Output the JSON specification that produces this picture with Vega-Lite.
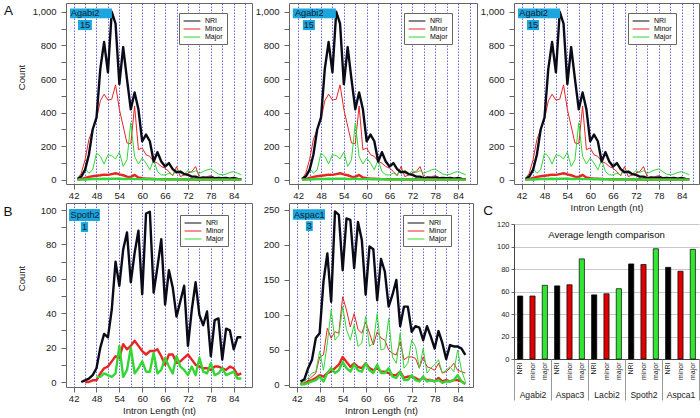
{
"$schema":"https://vega.github.io/schema/vega-lite/v6.json",
"autosize":"none",
"padding":{"left":66,"top":3,"right":634,"bottom":415},
"background":"white",
"config":{
 "font":"Liberation Sans",
 "view":{"stroke":"#666","strokeWidth":1},
 "axis":{"labelFont":"Liberation Sans","titleFont":"Liberation Sans","labelFontSize":9.5,"labelColor":"#222","titleFontSize":9.5,"titleFontWeight":"normal","titleColor":"#222","tickColor":"#666","domain":false,"grid":false,"tickSize":5,"labelOverlap":false},
 "title":{"font":"Liberation Sans","fontWeight":"normal","color":"#111"},
 "legend":{"labelFont":"Liberation Sans"}
},
"datasets":{
"agabi2":[
{"nt":43,"series":"NRI","count":5},{"nt":44,"series":"NRI","count":20},{"nt":45,"series":"NRI","count":60},{"nt":46,"series":"NRI","count":150},{"nt":47,"series":"NRI","count":300},{"nt":48,"series":"NRI","count":370},{"nt":49,"series":"NRI","count":660},{"nt":50,"series":"NRI","count":820},{"nt":51,"series":"NRI","count":640},{"nt":52,"series":"NRI","count":1000},{"nt":53,"series":"NRI","count":930},{"nt":54,"series":"NRI","count":570},{"nt":55,"series":"NRI","count":790},{"nt":56,"series":"NRI","count":600},{"nt":57,"series":"NRI","count":420},{"nt":58,"series":"NRI","count":520},{"nt":59,"series":"NRI","count":420},{"nt":60,"series":"NRI","count":230},{"nt":61,"series":"NRI","count":270},{"nt":62,"series":"NRI","count":230},{"nt":63,"series":"NRI","count":110},{"nt":64,"series":"NRI","count":165},{"nt":65,"series":"NRI","count":110},{"nt":66,"series":"NRI","count":80},{"nt":67,"series":"NRI","count":100},{"nt":68,"series":"NRI","count":65},{"nt":69,"series":"NRI","count":45},{"nt":70,"series":"NRI","count":50},{"nt":71,"series":"NRI","count":35},{"nt":72,"series":"NRI","count":30},{"nt":73,"series":"NRI","count":20},{"nt":74,"series":"NRI","count":20},{"nt":75,"series":"NRI","count":10},{"nt":76,"series":"NRI","count":15},{"nt":77,"series":"NRI","count":10},{"nt":78,"series":"NRI","count":15},{"nt":79,"series":"NRI","count":10},{"nt":80,"series":"NRI","count":12},{"nt":81,"series":"NRI","count":10},{"nt":82,"series":"NRI","count":12},{"nt":83,"series":"NRI","count":8},{"nt":84,"series":"NRI","count":12},{"nt":85,"series":"NRI","count":6},{"nt":86,"series":"NRI","count":5},
{"nt":43,"series":"Minor","count":5},{"nt":44,"series":"Minor","count":40},{"nt":45,"series":"Minor","count":120},{"nt":46,"series":"Minor","count":240},{"nt":47,"series":"Minor","count":300},{"nt":48,"series":"Minor","count":360},{"nt":49,"series":"Minor","count":470},{"nt":50,"series":"Minor","count":510},{"nt":51,"series":"Minor","count":475},{"nt":52,"series":"Minor","count":480},{"nt":53,"series":"Minor","count":565},{"nt":54,"series":"Minor","count":420},{"nt":55,"series":"Minor","count":320},{"nt":56,"series":"Minor","count":220},{"nt":57,"series":"Minor","count":215},{"nt":58,"series":"Minor","count":440},{"nt":59,"series":"Minor","count":180},{"nt":60,"series":"Minor","count":190},{"nt":61,"series":"Minor","count":150},{"nt":62,"series":"Minor","count":140},{"nt":63,"series":"Minor","count":110},{"nt":64,"series":"Minor","count":100},{"nt":65,"series":"Minor","count":80},{"nt":66,"series":"Minor","count":70},{"nt":67,"series":"Minor","count":50},{"nt":68,"series":"Minor","count":25},{"nt":69,"series":"Minor","count":80},{"nt":70,"series":"Minor","count":20},{"nt":71,"series":"Minor","count":30},{"nt":72,"series":"Minor","count":40},{"nt":73,"series":"Minor","count":50},{"nt":74,"series":"Minor","count":80},{"nt":75,"series":"Minor","count":15},{"nt":76,"series":"Minor","count":15},{"nt":77,"series":"Minor","count":20},{"nt":78,"series":"Minor","count":25},{"nt":79,"series":"Minor","count":15},{"nt":80,"series":"Minor","count":10},{"nt":81,"series":"Minor","count":10},{"nt":82,"series":"Minor","count":12},{"nt":83,"series":"Minor","count":10},{"nt":84,"series":"Minor","count":10},{"nt":85,"series":"Minor","count":8},{"nt":86,"series":"Minor","count":5},
{"nt":43,"series":"Major","count":0},{"nt":44,"series":"Major","count":20},{"nt":45,"series":"Major","count":70},{"nt":46,"series":"Major","count":40},{"nt":47,"series":"Major","count":60},{"nt":48,"series":"Major","count":160},{"nt":49,"series":"Major","count":140},{"nt":50,"series":"Major","count":95},{"nt":51,"series":"Major","count":150},{"nt":52,"series":"Major","count":145},{"nt":53,"series":"Major","count":125},{"nt":54,"series":"Major","count":165},{"nt":55,"series":"Major","count":80},{"nt":56,"series":"Major","count":120},{"nt":57,"series":"Major","count":340},{"nt":58,"series":"Major","count":140},{"nt":59,"series":"Major","count":95},{"nt":60,"series":"Major","count":130},{"nt":61,"series":"Major","count":100},{"nt":62,"series":"Major","count":60},{"nt":63,"series":"Major","count":120},{"nt":64,"series":"Major","count":50},{"nt":65,"series":"Major","count":30},{"nt":66,"series":"Major","count":30},{"nt":67,"series":"Major","count":40},{"nt":68,"series":"Major","count":30},{"nt":69,"series":"Major","count":60},{"nt":70,"series":"Major","count":40},{"nt":71,"series":"Major","count":35},{"nt":72,"series":"Major","count":55},{"nt":73,"series":"Major","count":45},{"nt":74,"series":"Major","count":55},{"nt":75,"series":"Major","count":40},{"nt":76,"series":"Major","count":50},{"nt":77,"series":"Major","count":60},{"nt":78,"series":"Major","count":65},{"nt":79,"series":"Major","count":50},{"nt":80,"series":"Major","count":35},{"nt":81,"series":"Major","count":30},{"nt":82,"series":"Major","count":35},{"nt":83,"series":"Major","count":45},{"nt":84,"series":"Major","count":50},{"nt":85,"series":"Major","count":40},{"nt":86,"series":"Major","count":30},
{"nt":43,"series":"Minor subset","count":2},{"nt":44,"series":"Minor subset","count":5},{"nt":45,"series":"Minor subset","count":12},{"nt":46,"series":"Minor subset","count":18},{"nt":47,"series":"Minor subset","count":22},{"nt":48,"series":"Minor subset","count":25},{"nt":49,"series":"Minor subset","count":28},{"nt":50,"series":"Minor subset","count":32},{"nt":51,"series":"Minor subset","count":30},{"nt":52,"series":"Minor subset","count":35},{"nt":53,"series":"Minor subset","count":40},{"nt":54,"series":"Minor subset","count":33},{"nt":55,"series":"Minor subset","count":28},{"nt":56,"series":"Minor subset","count":20},{"nt":57,"series":"Minor subset","count":18},{"nt":58,"series":"Minor subset","count":30},{"nt":59,"series":"Minor subset","count":15},{"nt":60,"series":"Minor subset","count":10},{"nt":61,"series":"Minor subset","count":8},{"nt":62,"series":"Minor subset","count":7},{"nt":63,"series":"Minor subset","count":6},{"nt":64,"series":"Minor subset","count":5},{"nt":65,"series":"Minor subset","count":5},{"nt":66,"series":"Minor subset","count":4},{"nt":67,"series":"Minor subset","count":5},{"nt":68,"series":"Minor subset","count":4},{"nt":69,"series":"Minor subset","count":4},{"nt":70,"series":"Minor subset","count":3},{"nt":71,"series":"Minor subset","count":4},{"nt":72,"series":"Minor subset","count":3},{"nt":73,"series":"Minor subset","count":4},{"nt":74,"series":"Minor subset","count":3},{"nt":75,"series":"Minor subset","count":3},{"nt":76,"series":"Minor subset","count":3},{"nt":77,"series":"Minor subset","count":2},{"nt":78,"series":"Minor subset","count":3},{"nt":79,"series":"Minor subset","count":2},{"nt":80,"series":"Minor subset","count":2},{"nt":81,"series":"Minor subset","count":3},{"nt":82,"series":"Minor subset","count":2},{"nt":83,"series":"Minor subset","count":2},{"nt":84,"series":"Minor subset","count":2},{"nt":85,"series":"Minor subset","count":2},{"nt":86,"series":"Minor subset","count":1},
{"nt":43,"series":"Major subset","count":1},{"nt":44,"series":"Major subset","count":2},{"nt":45,"series":"Major subset","count":3},{"nt":46,"series":"Major subset","count":4},{"nt":47,"series":"Major subset","count":5},{"nt":48,"series":"Major subset","count":6},{"nt":49,"series":"Major subset","count":6},{"nt":50,"series":"Major subset","count":7},{"nt":51,"series":"Major subset","count":6},{"nt":52,"series":"Major subset","count":7},{"nt":53,"series":"Major subset","count":8},{"nt":54,"series":"Major subset","count":7},{"nt":55,"series":"Major subset","count":6},{"nt":56,"series":"Major subset","count":5},{"nt":57,"series":"Major subset","count":8},{"nt":58,"series":"Major subset","count":6},{"nt":59,"series":"Major subset","count":5},{"nt":60,"series":"Major subset","count":5},{"nt":61,"series":"Major subset","count":4},{"nt":62,"series":"Major subset","count":4},{"nt":63,"series":"Major subset","count":5},{"nt":64,"series":"Major subset","count":4},{"nt":65,"series":"Major subset","count":3},{"nt":66,"series":"Major subset","count":3},{"nt":67,"series":"Major subset","count":3},{"nt":68,"series":"Major subset","count":3},{"nt":69,"series":"Major subset","count":4},{"nt":70,"series":"Major subset","count":3},{"nt":71,"series":"Major subset","count":3},{"nt":72,"series":"Major subset","count":3},{"nt":73,"series":"Major subset","count":2},{"nt":74,"series":"Major subset","count":3},{"nt":75,"series":"Major subset","count":2},{"nt":76,"series":"Major subset","count":2},{"nt":77,"series":"Major subset","count":3},{"nt":78,"series":"Major subset","count":2},{"nt":79,"series":"Major subset","count":2},{"nt":80,"series":"Major subset","count":2},{"nt":81,"series":"Major subset","count":2},{"nt":82,"series":"Major subset","count":2},{"nt":83,"series":"Major subset","count":2},{"nt":84,"series":"Major subset","count":2},{"nt":85,"series":"Major subset","count":2},{"nt":86,"series":"Major subset","count":1}
],
"spoth2":[
{"nt":44,"series":"NRI","count":0},{"nt":45,"series":"NRI","count":1},{"nt":46,"series":"NRI","count":2},{"nt":47,"series":"NRI","count":4},{"nt":48,"series":"NRI","count":8},{"nt":49,"series":"NRI","count":20},{"nt":50,"series":"NRI","count":28},{"nt":51,"series":"NRI","count":26},{"nt":52,"series":"NRI","count":42},{"nt":53,"series":"NRI","count":70},{"nt":54,"series":"NRI","count":56},{"nt":55,"series":"NRI","count":77},{"nt":56,"series":"NRI","count":87},{"nt":57,"series":"NRI","count":58},{"nt":58,"series":"NRI","count":75},{"nt":59,"series":"NRI","count":88},{"nt":60,"series":"NRI","count":51},{"nt":61,"series":"NRI","count":98},{"nt":62,"series":"NRI","count":99},{"nt":63,"series":"NRI","count":52},{"nt":64,"series":"NRI","count":67},{"nt":65,"series":"NRI","count":83},{"nt":66,"series":"NRI","count":45},{"nt":67,"series":"NRI","count":65},{"nt":68,"series":"NRI","count":55},{"nt":69,"series":"NRI","count":38},{"nt":70,"series":"NRI","count":47},{"nt":71,"series":"NRI","count":56},{"nt":72,"series":"NRI","count":21},{"nt":73,"series":"NRI","count":42},{"nt":74,"series":"NRI","count":58},{"nt":75,"series":"NRI","count":39},{"nt":76,"series":"NRI","count":33},{"nt":77,"series":"NRI","count":41},{"nt":78,"series":"NRI","count":15},{"nt":79,"series":"NRI","count":36},{"nt":80,"series":"NRI","count":37},{"nt":81,"series":"NRI","count":13},{"nt":82,"series":"NRI","count":31},{"nt":83,"series":"NRI","count":30},{"nt":84,"series":"NRI","count":19},{"nt":85,"series":"NRI","count":26},{"nt":86,"series":"NRI","count":26},
{"nt":45,"series":"Minor subset","count":0},{"nt":46,"series":"Minor subset","count":0},{"nt":47,"series":"Minor subset","count":1},{"nt":48,"series":"Minor subset","count":1},{"nt":49,"series":"Minor subset","count":5},{"nt":50,"series":"Minor subset","count":8},{"nt":51,"series":"Minor subset","count":9},{"nt":52,"series":"Minor subset","count":12},{"nt":53,"series":"Minor subset","count":15},{"nt":54,"series":"Minor subset","count":14},{"nt":55,"series":"Minor subset","count":22},{"nt":56,"series":"Minor subset","count":19},{"nt":57,"series":"Minor subset","count":21},{"nt":58,"series":"Minor subset","count":24},{"nt":59,"series":"Minor subset","count":21},{"nt":60,"series":"Minor subset","count":18},{"nt":61,"series":"Minor subset","count":16},{"nt":62,"series":"Minor subset","count":18},{"nt":63,"series":"Minor subset","count":18},{"nt":64,"series":"Minor subset","count":19},{"nt":65,"series":"Minor subset","count":15},{"nt":66,"series":"Minor subset","count":10},{"nt":67,"series":"Minor subset","count":16},{"nt":68,"series":"Minor subset","count":16},{"nt":69,"series":"Minor subset","count":11},{"nt":70,"series":"Minor subset","count":12},{"nt":71,"series":"Minor subset","count":14},{"nt":72,"series":"Minor subset","count":16},{"nt":73,"series":"Minor subset","count":13},{"nt":74,"series":"Minor subset","count":10},{"nt":75,"series":"Minor subset","count":9},{"nt":76,"series":"Minor subset","count":8},{"nt":77,"series":"Minor subset","count":8},{"nt":78,"series":"Minor subset","count":7},{"nt":79,"series":"Minor subset","count":9},{"nt":80,"series":"Minor subset","count":9},{"nt":81,"series":"Minor subset","count":8},{"nt":82,"series":"Minor subset","count":7},{"nt":83,"series":"Minor subset","count":9},{"nt":84,"series":"Minor subset","count":8},{"nt":85,"series":"Minor subset","count":4},{"nt":86,"series":"Minor subset","count":5},
{"nt":48,"series":"Major subset","count":3},{"nt":49,"series":"Major subset","count":3},{"nt":50,"series":"Major subset","count":5},{"nt":51,"series":"Major subset","count":4},{"nt":52,"series":"Major subset","count":3},{"nt":53,"series":"Major subset","count":5},{"nt":54,"series":"Major subset","count":21},{"nt":55,"series":"Major subset","count":3},{"nt":56,"series":"Major subset","count":7},{"nt":57,"series":"Major subset","count":20},{"nt":58,"series":"Major subset","count":5},{"nt":59,"series":"Major subset","count":8},{"nt":60,"series":"Major subset","count":12},{"nt":61,"series":"Major subset","count":6},{"nt":62,"series":"Major subset","count":6},{"nt":63,"series":"Major subset","count":17},{"nt":64,"series":"Major subset","count":5},{"nt":65,"series":"Major subset","count":7},{"nt":66,"series":"Major subset","count":14},{"nt":67,"series":"Major subset","count":9},{"nt":68,"series":"Major subset","count":5},{"nt":69,"series":"Major subset","count":15},{"nt":70,"series":"Major subset","count":9},{"nt":71,"series":"Major subset","count":7},{"nt":72,"series":"Major subset","count":4},{"nt":73,"series":"Major subset","count":9},{"nt":74,"series":"Major subset","count":4},{"nt":75,"series":"Major subset","count":14},{"nt":76,"series":"Major subset","count":6},{"nt":77,"series":"Major subset","count":5},{"nt":78,"series":"Major subset","count":11},{"nt":79,"series":"Major subset","count":4},{"nt":80,"series":"Major subset","count":5},{"nt":81,"series":"Major subset","count":8},{"nt":82,"series":"Major subset","count":4},{"nt":83,"series":"Major subset","count":5},{"nt":84,"series":"Major subset","count":6},{"nt":85,"series":"Major subset","count":2},{"nt":86,"series":"Major subset","count":2}
],
"aspac1":[
{"nt":43,"series":"NRI","count":5},{"nt":44,"series":"NRI","count":8},{"nt":45,"series":"NRI","count":24},{"nt":46,"series":"NRI","count":36},{"nt":47,"series":"NRI","count":67},{"nt":48,"series":"NRI","count":74},{"nt":49,"series":"NRI","count":148},{"nt":50,"series":"NRI","count":188},{"nt":51,"series":"NRI","count":119},{"nt":52,"series":"NRI","count":248},{"nt":53,"series":"NRI","count":243},{"nt":54,"series":"NRI","count":164},{"nt":55,"series":"NRI","count":238},{"nt":56,"series":"NRI","count":236},{"nt":57,"series":"NRI","count":167},{"nt":58,"series":"NRI","count":233},{"nt":59,"series":"NRI","count":207},{"nt":60,"series":"NRI","count":129},{"nt":61,"series":"NRI","count":198},{"nt":62,"series":"NRI","count":194},{"nt":63,"series":"NRI","count":121},{"nt":64,"series":"NRI","count":180},{"nt":65,"series":"NRI","count":162},{"nt":66,"series":"NRI","count":112},{"nt":67,"series":"NRI","count":129},{"nt":68,"series":"NRI","count":150},{"nt":69,"series":"NRI","count":84},{"nt":70,"series":"NRI","count":112},{"nt":71,"series":"NRI","count":112},{"nt":72,"series":"NRI","count":76},{"nt":73,"series":"NRI","count":84},{"nt":74,"series":"NRI","count":82},{"nt":75,"series":"NRI","count":64},{"nt":76,"series":"NRI","count":84},{"nt":77,"series":"NRI","count":69},{"nt":78,"series":"NRI","count":52},{"nt":79,"series":"NRI","count":77},{"nt":80,"series":"NRI","count":60},{"nt":81,"series":"NRI","count":37},{"nt":82,"series":"NRI","count":57},{"nt":83,"series":"NRI","count":55},{"nt":84,"series":"NRI","count":55},{"nt":85,"series":"NRI","count":52},{"nt":86,"series":"NRI","count":43},
{"nt":43,"series":"Minor","count":3},{"nt":44,"series":"Minor","count":2},{"nt":45,"series":"Minor","count":7},{"nt":46,"series":"Minor","count":12},{"nt":47,"series":"Minor","count":17},{"nt":48,"series":"Minor","count":40},{"nt":49,"series":"Minor","count":43},{"nt":50,"series":"Minor","count":81},{"nt":51,"series":"Minor","count":67},{"nt":52,"series":"Minor","count":76},{"nt":53,"series":"Minor","count":74},{"nt":54,"series":"Minor","count":126},{"nt":55,"series":"Minor","count":107},{"nt":56,"series":"Minor","count":83},{"nt":57,"series":"Minor","count":102},{"nt":58,"series":"Minor","count":79},{"nt":59,"series":"Minor","count":74},{"nt":60,"series":"Minor","count":90},{"nt":61,"series":"Minor","count":74},{"nt":62,"series":"Minor","count":57},{"nt":63,"series":"Minor","count":76},{"nt":64,"series":"Minor","count":67},{"nt":65,"series":"Minor","count":64},{"nt":66,"series":"Minor","count":50},{"nt":67,"series":"Minor","count":45},{"nt":68,"series":"Minor","count":43},{"nt":69,"series":"Minor","count":62},{"nt":70,"series":"Minor","count":36},{"nt":71,"series":"Minor","count":40},{"nt":72,"series":"Minor","count":40},{"nt":73,"series":"Minor","count":38},{"nt":74,"series":"Minor","count":24},{"nt":75,"series":"Minor","count":40},{"nt":76,"series":"Minor","count":26},{"nt":77,"series":"Minor","count":24},{"nt":78,"series":"Minor","count":21},{"nt":79,"series":"Minor","count":31},{"nt":80,"series":"Minor","count":17},{"nt":81,"series":"Minor","count":19},{"nt":82,"series":"Minor","count":24},{"nt":83,"series":"Minor","count":31},{"nt":84,"series":"Minor","count":21},{"nt":85,"series":"Minor","count":19},{"nt":86,"series":"Minor","count":17},
{"nt":43,"series":"Major","count":2},{"nt":44,"series":"Major","count":5},{"nt":45,"series":"Major","count":10},{"nt":46,"series":"Major","count":17},{"nt":47,"series":"Major","count":19},{"nt":48,"series":"Major","count":48},{"nt":49,"series":"Major","count":21},{"nt":50,"series":"Major","count":60},{"nt":51,"series":"Major","count":107},{"nt":52,"series":"Major","count":64},{"nt":53,"series":"Major","count":71},{"nt":54,"series":"Major","count":112},{"nt":55,"series":"Major","count":79},{"nt":56,"series":"Major","count":64},{"nt":57,"series":"Major","count":86},{"nt":58,"series":"Major","count":55},{"nt":59,"series":"Major","count":60},{"nt":60,"series":"Major","count":98},{"nt":61,"series":"Major","count":55},{"nt":62,"series":"Major","count":60},{"nt":63,"series":"Major","count":102},{"nt":64,"series":"Major","count":50},{"nt":65,"series":"Major","count":52},{"nt":66,"series":"Major","count":95},{"nt":67,"series":"Major","count":40},{"nt":68,"series":"Major","count":31},{"nt":69,"series":"Major","count":74},{"nt":70,"series":"Major","count":24},{"nt":71,"series":"Major","count":31},{"nt":72,"series":"Major","count":64},{"nt":73,"series":"Major","count":55},{"nt":74,"series":"Major","count":24},{"nt":75,"series":"Major","count":52},{"nt":76,"series":"Major","count":17},{"nt":77,"series":"Major","count":24},{"nt":78,"series":"Major","count":29},{"nt":79,"series":"Major","count":36},{"nt":80,"series":"Major","count":17},{"nt":81,"series":"Major","count":21},{"nt":82,"series":"Major","count":26},{"nt":83,"series":"Major","count":19},{"nt":84,"series":"Major","count":50},{"nt":85,"series":"Major","count":21},{"nt":86,"series":"Major","count":5},
{"nt":43,"series":"Minor subset","count":1},{"nt":44,"series":"Minor subset","count":2},{"nt":45,"series":"Minor subset","count":5},{"nt":46,"series":"Minor subset","count":7},{"nt":47,"series":"Minor subset","count":10},{"nt":48,"series":"Minor subset","count":14},{"nt":49,"series":"Minor subset","count":12},{"nt":50,"series":"Minor subset","count":17},{"nt":51,"series":"Minor subset","count":19},{"nt":52,"series":"Minor subset","count":24},{"nt":53,"series":"Minor subset","count":29},{"nt":54,"series":"Minor subset","count":40},{"nt":55,"series":"Minor subset","count":33},{"nt":56,"series":"Minor subset","count":26},{"nt":57,"series":"Minor subset","count":31},{"nt":58,"series":"Minor subset","count":26},{"nt":59,"series":"Minor subset","count":24},{"nt":60,"series":"Minor subset","count":31},{"nt":61,"series":"Minor subset","count":24},{"nt":62,"series":"Minor subset","count":21},{"nt":63,"series":"Minor subset","count":24},{"nt":64,"series":"Minor subset","count":19},{"nt":65,"series":"Minor subset","count":19},{"nt":66,"series":"Minor subset","count":17},{"nt":67,"series":"Minor subset","count":14},{"nt":68,"series":"Minor subset","count":14},{"nt":69,"series":"Minor subset","count":19},{"nt":70,"series":"Minor subset","count":10},{"nt":71,"series":"Minor subset","count":12},{"nt":72,"series":"Minor subset","count":12},{"nt":73,"series":"Minor subset","count":10},{"nt":74,"series":"Minor subset","count":7},{"nt":75,"series":"Minor subset","count":10},{"nt":76,"series":"Minor subset","count":7},{"nt":77,"series":"Minor subset","count":7},{"nt":78,"series":"Minor subset","count":5},{"nt":79,"series":"Minor subset","count":10},{"nt":80,"series":"Minor subset","count":5},{"nt":81,"series":"Minor subset","count":7},{"nt":82,"series":"Minor subset","count":5},{"nt":83,"series":"Minor subset","count":7},{"nt":84,"series":"Minor subset","count":7},{"nt":85,"series":"Minor subset","count":5},{"nt":86,"series":"Minor subset","count":2},
{"nt":43,"series":"Major subset","count":1},{"nt":44,"series":"Major subset","count":1},{"nt":45,"series":"Major subset","count":3},{"nt":46,"series":"Major subset","count":5},{"nt":47,"series":"Major subset","count":7},{"nt":48,"series":"Major subset","count":12},{"nt":49,"series":"Major subset","count":5},{"nt":50,"series":"Major subset","count":17},{"nt":51,"series":"Major subset","count":24},{"nt":52,"series":"Major subset","count":17},{"nt":53,"series":"Major subset","count":21},{"nt":54,"series":"Major subset","count":33},{"nt":55,"series":"Major subset","count":24},{"nt":56,"series":"Major subset","count":19},{"nt":57,"series":"Major subset","count":29},{"nt":58,"series":"Major subset","count":21},{"nt":59,"series":"Major subset","count":19},{"nt":60,"series":"Major subset","count":31},{"nt":61,"series":"Major subset","count":21},{"nt":62,"series":"Major subset","count":17},{"nt":63,"series":"Major subset","count":29},{"nt":64,"series":"Major subset","count":17},{"nt":65,"series":"Major subset","count":17},{"nt":66,"series":"Major subset","count":24},{"nt":67,"series":"Major subset","count":12},{"nt":68,"series":"Major subset","count":10},{"nt":69,"series":"Major subset","count":19},{"nt":70,"series":"Major subset","count":7},{"nt":71,"series":"Major subset","count":7},{"nt":72,"series":"Major subset","count":14},{"nt":73,"series":"Major subset","count":7},{"nt":74,"series":"Major subset","count":5},{"nt":75,"series":"Major subset","count":12},{"nt":76,"series":"Major subset","count":5},{"nt":77,"series":"Major subset","count":7},{"nt":78,"series":"Major subset","count":5},{"nt":79,"series":"Major subset","count":7},{"nt":80,"series":"Major subset","count":3},{"nt":81,"series":"Major subset","count":5},{"nt":82,"series":"Major subset","count":5},{"nt":83,"series":"Major subset","count":7},{"nt":84,"series":"Major subset","count":14},{"nt":85,"series":"Major subset","count":5},{"nt":86,"series":"Major subset","count":1}
],
"avg":[
{"species":"Agabi2","type":"NRI","id":"Agabi2 NRI","length":56},{"species":"Agabi2","type":"minor","id":"Agabi2 minor","length":56},{"species":"Agabi2","type":"major","id":"Agabi2 major","length":65.5},
{"species":"Aspac3","type":"NRI","id":"Aspac3 NRI","length":65},{"species":"Aspac3","type":"minor","id":"Aspac3 minor","length":66},{"species":"Aspac3","type":"major","id":"Aspac3 major","length":89},
{"species":"Lacbi2","type":"NRI","id":"Lacbi2 NRI","length":57},{"species":"Lacbi2","type":"minor","id":"Lacbi2 minor","length":58},{"species":"Lacbi2","type":"major","id":"Lacbi2 major","length":62.5},
{"species":"Spoth2","type":"NRI","id":"Spoth2 NRI","length":84.5},{"species":"Spoth2","type":"minor","id":"Spoth2 minor","length":84},{"species":"Spoth2","type":"major","id":"Spoth2 major","length":98},
{"species":"Aspca1","type":"NRI","id":"Aspca1 NRI","length":81.5},{"species":"Aspca1","type":"minor","id":"Aspca1 minor","length":78},{"species":"Aspca1","type":"major","id":"Aspca1 major","length":97.5}
]
},
"columns":3,
"align":"none",
"bounds":"flush",
"spacing":{"row":19,"column":37},
"resolve":{"scale":{"x":"independent","y":"independent","color":"independent"},"axis":{"x":"independent","y":"independent"},"legend":{"color":"independent"}},
"concat":[
 {"width":186,"height":181,
  "title":{"text":"A","anchor":"start","frame":"group","dx":-62,"offset":-14,"fontSize":13.5},
  "data":{"name":"agabi2"},
  "layer":[
   {"transform":[{"filter":{"field":"series","oneOf":["Minor","Major"]}}],
    "mark":{"type":"line","strokeWidth":1,"clip":true},
    "encoding":{
     "x":{"field":"nt","type":"quantitative","scale":{"domain":[40,88.8],"nice":false,"zero":false},"axis":{"values":[42,45,48,51,54,57,60,63,66,69,72,75,78,81,84,87],"tickCount":100,"format":"d","labelExpr":"datum.value % 6 == 0 ? datum.label : ''","tickOpacity":{"condition":{"test":"datum.value % 6 == 0","value":1},"value":0},"grid":true,"gridColor":"#4a4ad8","gridDash":[1.5,1.5],"gridOpacity":0.85,"labelPadding":1,"title":null}},
     "y":{"field":"count","type":"quantitative","scale":{"domain":[-24,1052],"nice":false,"zero":false},"axis":{"values":[0,100,200,300,400,500,600,700,800,900,1000],"tickCount":100,"format":",d","labelExpr":"datum.value % 200 == 0 ? datum.label : ''","labelPadding":5,"title":"Count","titleY":74,"titleX":-40}},
     "color":{"field":"series","type":"nominal","scale":{"domain":["NRI","Minor","Major","Minor subset","Major subset"],"range":["#0a0a18","#e82424","#33d633","#e82424","#33d633"]},
      "legend":{"orient":"none","legendX":113,"legendY":10,"title":null,"values":["NRI","Minor","Major"],"labelExpr":"datum.label + '\u00a0\u00a0\u00a0\u00a0\u00a0'","symbolType":"M-2.4,0H2.4","symbolSize":49,"symbolStrokeWidth":1,"labelFontSize":7,"labelOffset":9,"rowPadding":1,"padding":4,"strokeColor":"#666","fillColor":"#fff","symbolOffset":5}}}},
   {"transform":[{"filter":{"field":"series","oneOf":["NRI","Minor subset","Major subset"]}}],
    "mark":{"type":"line","strokeWidth":2.4,"strokeJoin":"round","clip":true},
    "encoding":{"x":{"field":"nt","type":"quantitative"},"y":{"field":"count","type":"quantitative"},"color":{"field":"series","type":"nominal"}}},
   {"data":{"values":[{}]},"mark":{"type":"rect","color":"#1da5dd"},"encoding":{"x":{"datum":41.05},"x2":{"datum":52.05},"y":{"datum":1020},"y2":{"datum":961}}},
   {"data":{"values":[{}]},"mark":{"type":"rect","color":"#1da5dd"},"encoding":{"x":{"datum":43.15},"x2":{"datum":46.8},"y":{"datum":951},"y2":{"datum":891}}},
   {"data":{"values":[{}]},"mark":{"type":"text","text":"Agabi2","align":"left","baseline":"middle","fontSize":9.2,"color":"#102030"},"encoding":{"x":{"datum":41.25},"y":{"datum":990}}},
   {"data":{"values":[{}]},"mark":{"type":"text","text":"15","align":"center","baseline":"middle","fontSize":9.2,"color":"#102030"},"encoding":{"x":{"datum":45},"y":{"datum":921}}}
  ]},
 {"width":188,"height":181,
  "data":{"name":"agabi2"},
  "layer":[
   {"transform":[{"filter":{"field":"series","oneOf":["Minor","Major"]}}],
    "mark":{"type":"line","strokeWidth":1,"clip":true},
    "encoding":{
     "x":{"field":"nt","type":"quantitative","scale":{"domain":[39.6,88.95],"nice":false,"zero":false},"axis":{"values":[42,45,48,51,54,57,60,63,66,69,72,75,78,81,84,87],"tickCount":100,"format":"d","labelExpr":"datum.value % 6 == 0 ? datum.label : ''","tickOpacity":{"condition":{"test":"datum.value % 6 == 0","value":1},"value":0},"grid":true,"gridColor":"#4a4ad8","gridDash":[1.5,1.5],"gridOpacity":0.85,"labelPadding":1,"title":null}},
     "y":{"field":"count","type":"quantitative","scale":{"domain":[-24,1052],"nice":false,"zero":false},"axis":{"values":[0,100,200,300,400,500,600,700,800,900,1000],"tickCount":100,"format":",d","labelExpr":"datum.value % 200 == 0 ? datum.label : ''","labelPadding":5,"title":null}},
     "color":{"field":"series","type":"nominal","scale":{"domain":["NRI","Minor","Major","Minor subset","Major subset"],"range":["#0a0a18","#e82424","#33d633","#e82424","#33d633"]},
      "legend":{"orient":"none","legendX":115,"legendY":10,"title":null,"values":["NRI","Minor","Major"],"labelExpr":"datum.label + '\u00a0\u00a0\u00a0\u00a0\u00a0'","symbolType":"M-2.4,0H2.4","symbolSize":49,"symbolStrokeWidth":1,"labelFontSize":7,"labelOffset":9,"rowPadding":1,"padding":4,"strokeColor":"#666","fillColor":"#fff","symbolOffset":5}}}},
   {"transform":[{"filter":{"field":"series","oneOf":["NRI","Minor subset","Major subset"]}}],
    "mark":{"type":"line","strokeWidth":2.4,"strokeJoin":"round","clip":true},
    "encoding":{"x":{"field":"nt","type":"quantitative"},"y":{"field":"count","type":"quantitative"},"color":{"field":"series","type":"nominal"}}},
   {"data":{"values":[{}]},"mark":{"type":"rect","color":"#1da5dd"},"encoding":{"x":{"datum":40.6},"x2":{"datum":51.9},"y":{"datum":1020},"y2":{"datum":961}}},
   {"data":{"values":[{}]},"mark":{"type":"rect","color":"#1da5dd"},"encoding":{"x":{"datum":43.25},"x2":{"datum":46.4},"y":{"datum":951},"y2":{"datum":891}}},
   {"data":{"values":[{}]},"mark":{"type":"text","text":"Agabi2","align":"left","baseline":"middle","fontSize":9.2,"color":"#102030"},"encoding":{"x":{"datum":41.15},"y":{"datum":990}}},
   {"data":{"values":[{}]},"mark":{"type":"text","text":"15","align":"center","baseline":"middle","fontSize":9.2,"color":"#102030"},"encoding":{"x":{"datum":44.8},"y":{"datum":921}}}
  ]},
 {"width":185,"height":181,
  "data":{"name":"agabi2"},
  "layer":[
   {"transform":[{"filter":{"field":"series","oneOf":["Minor","Major"]}}],
    "mark":{"type":"line","strokeWidth":1,"clip":true},
    "encoding":{
     "x":{"field":"nt","type":"quantitative","scale":{"domain":[40,88.55],"nice":false,"zero":false},"axis":{"values":[42,45,48,51,54,57,60,63,66,69,72,75,78,81,84,87],"tickCount":100,"format":"d","labelExpr":"datum.value % 6 == 0 ? datum.label : ''","tickOpacity":{"condition":{"test":"datum.value % 6 == 0","value":1},"value":0},"grid":true,"gridColor":"#4a4ad8","gridDash":[1.5,1.5],"gridOpacity":0.85,"labelPadding":1,"title":"Intron Length (nt)","titlePadding":3}},
     "y":{"field":"count","type":"quantitative","scale":{"domain":[-24,1052],"nice":false,"zero":false},"axis":{"values":[0,100,200,300,400,500,600,700,800,900,1000],"tickCount":100,"format":",d","labelExpr":"datum.value % 200 == 0 ? datum.label : ''","labelPadding":5,"title":null}},
     "color":{"field":"series","type":"nominal","scale":{"domain":["NRI","Minor","Major","Minor subset","Major subset"],"range":["#0a0a18","#e82424","#33d633","#e82424","#33d633"]},
      "legend":{"orient":"none","legendX":114,"legendY":10,"title":null,"values":["NRI","Minor","Major"],"labelExpr":"datum.label + '\u00a0\u00a0\u00a0\u00a0\u00a0'","symbolType":"M-2.4,0H2.4","symbolSize":49,"symbolStrokeWidth":1,"labelFontSize":7,"labelOffset":9,"rowPadding":1,"padding":4,"strokeColor":"#666","fillColor":"#fff","symbolOffset":5}}}},
   {"transform":[{"filter":{"field":"series","oneOf":["NRI","Minor subset","Major subset"]}}],
    "mark":{"type":"line","strokeWidth":2.4,"strokeJoin":"round","clip":true},
    "encoding":{"x":{"field":"nt","type":"quantitative"},"y":{"field":"count","type":"quantitative"},"color":{"field":"series","type":"nominal"}}},
   {"data":{"values":[{}]},"mark":{"type":"rect","color":"#1da5dd"},"encoding":{"x":{"datum":41.05},"x2":{"datum":52.1},"y":{"datum":1020},"y2":{"datum":961}}},
   {"data":{"values":[{}]},"mark":{"type":"rect","color":"#1da5dd"},"encoding":{"x":{"datum":43.4},"x2":{"datum":46.55},"y":{"datum":951},"y2":{"datum":891}}},
   {"data":{"values":[{}]},"mark":{"type":"text","text":"Agabi2","align":"left","baseline":"middle","fontSize":9.2,"color":"#102030"},"encoding":{"x":{"datum":41.4},"y":{"datum":990}}},
   {"data":{"values":[{}]},"mark":{"type":"text","text":"15","align":"center","baseline":"middle","fontSize":9.2,"color":"#102030"},"encoding":{"x":{"datum":45},"y":{"datum":921}}}
  ]},
 {"width":186,"height":184,
  "title":{"text":"B","anchor":"start","frame":"group","dx":-62.5,"offset":-15,"fontSize":13.5},
  "data":{"name":"spoth2"},
  "layer":[
   {"transform":[{"filter":{"field":"series","oneOf":["NRI","Minor subset","Major subset"]}}],
    "mark":{"type":"line","strokeWidth":2.4,"strokeJoin":"round","clip":true},
    "encoding":{
     "x":{"field":"nt","type":"quantitative","scale":{"domain":[40,88.8],"nice":false,"zero":false},"axis":{"values":[42,45,48,51,54,57,60,63,66,69,72,75,78,81,84,87],"tickCount":100,"format":"d","labelExpr":"datum.value % 6 == 0 ? datum.label : ''","tickOpacity":{"condition":{"test":"datum.value % 6 == 0","value":1},"value":0},"grid":true,"gridColor":"#4a4ad8","gridDash":[1.5,1.5],"gridOpacity":0.85,"labelPadding":1,"title":"Intron Length (nt)","titlePadding":3}},
     "y":{"field":"count","type":"quantitative","scale":{"domain":[-2.9,104.1],"nice":false,"zero":false},"axis":{"values":[0,10,20,30,40,50,60,70,80,90,100],"tickCount":100,"format":"d","labelExpr":"datum.value % 20 == 0 ? datum.label : ''","labelPadding":5,"title":"Count","titleY":75,"titleX":-40}},
     "color":{"field":"series","type":"nominal","scale":{"domain":["NRI","Minor","Major","Minor subset","Major subset"],"range":["#0a0a18","#e82424","#33d633","#e82424","#33d633"]},
      "legend":{"orient":"none","legendX":114,"legendY":12,"title":null,"values":["NRI","Minor","Major"],"labelExpr":"datum.label + '\u00a0\u00a0\u00a0\u00a0\u00a0'","symbolType":"M-2.4,0H2.4","symbolSize":49,"symbolStrokeWidth":1,"labelFontSize":7,"labelOffset":9,"rowPadding":1,"padding":4,"strokeColor":"#666","fillColor":"#fff","symbolOffset":5}}}},
   {"data":{"values":[{}]},"mark":{"type":"rect","color":"#1da5dd"},"encoding":{"x":{"datum":40.8},"x2":{"datum":48.9},"y":{"datum":100.6},"y2":{"datum":93.6}}},
   {"data":{"values":[{}]},"mark":{"type":"rect","color":"#1da5dd"},"encoding":{"x":{"datum":43.9},"x2":{"datum":45.8},"y":{"datum":93},"y2":{"datum":87.2}}},
   {"data":{"values":[{}]},"mark":{"type":"text","text":"Spoth2","align":"left","baseline":"middle","fontSize":9.2,"color":"#102030"},"encoding":{"x":{"datum":41.2},"y":{"datum":97.1}}},
   {"data":{"values":[{}]},"mark":{"type":"text","text":"1","align":"center","baseline":"middle","fontSize":9.2,"color":"#102030"},"encoding":{"x":{"datum":44.85},"y":{"datum":90.1}}}
  ]},
 {"width":184,"height":184,
  "title":{"text":"C","anchor":"end","frame":"group","dx":20,"offset":-14,"fontSize":13.5},
  "data":{"name":"aspac1"},
  "layer":[
   {"transform":[{"filter":{"field":"series","oneOf":["Minor","Major"]}}],
    "mark":{"type":"line","strokeWidth":1,"clip":true},
    "encoding":{
     "x":{"field":"nt","type":"quantitative","scale":{"domain":[40,88],"nice":false,"zero":false},"axis":{"values":[42,45,48,51,54,57,60,63,66,69,72,75,78,81,84,87],"tickCount":100,"format":"d","labelExpr":"datum.value % 6 == 0 ? datum.label : ''","tickOpacity":{"condition":{"test":"datum.value % 6 == 0","value":1},"value":0},"grid":true,"gridColor":"#4a4ad8","gridDash":[1.5,1.5],"gridOpacity":0.85,"labelPadding":1,"title":"Intron Length (nt)","titlePadding":3}},
     "y":{"field":"count","type":"quantitative","scale":{"domain":[-2.9,260],"nice":false,"zero":false},"axis":{"values":[0,50,100,150,200,250],"tickCount":100,"format":"d","labelPadding":5,"title":null}},
     "color":{"field":"series","type":"nominal","scale":{"domain":["NRI","Minor","Major","Minor subset","Major subset"],"range":["#0a0a18","#e82424","#33d633","#e82424","#33d633"]},
      "legend":{"orient":"none","legendX":114,"legendY":12,"title":null,"values":["NRI","Minor","Major"],"labelExpr":"datum.label + '\u00a0\u00a0\u00a0\u00a0\u00a0'","symbolType":"M-2.4,0H2.4","symbolSize":49,"symbolStrokeWidth":1,"labelFontSize":7,"labelOffset":9,"rowPadding":1,"padding":4,"strokeColor":"#666","fillColor":"#fff","symbolOffset":5}}}},
   {"transform":[{"filter":{"field":"series","oneOf":["NRI","Minor subset","Major subset"]}}],
    "mark":{"type":"line","strokeWidth":2.4,"strokeJoin":"round","clip":true},
    "encoding":{"x":{"field":"nt","type":"quantitative"},"y":{"field":"count","type":"quantitative"},"color":{"field":"series","type":"nominal"}}},
   {"data":{"values":[{}]},"mark":{"type":"rect","color":"#1da5dd"},"encoding":{"x":{"datum":41},"x2":{"datum":49.4},"y":{"datum":251},"y2":{"datum":236}}},
   {"data":{"values":[{}]},"mark":{"type":"rect","color":"#1da5dd"},"encoding":{"x":{"datum":44.4},"x2":{"datum":46.2},"y":{"datum":234},"y2":{"datum":220}}},
   {"data":{"values":[{}]},"mark":{"type":"text","text":"Aspac1","align":"left","baseline":"middle","fontSize":9.2,"color":"#102030"},"encoding":{"x":{"datum":41.3},"y":{"datum":243.5}}},
   {"data":{"values":[{}]},"mark":{"type":"text","text":"3","align":"center","baseline":"middle","fontSize":9.2,"color":"#102030"},"encoding":{"x":{"datum":45.3},"y":{"datum":227}}}
  ]},
 {"width":185,"height":156,
  "view":{"stroke":null},
  "title":{"text":"Average length comparison","anchor":"middle","frame":"group","offset":-37,"fontSize":9.6},
  "data":{"name":"avg"},
  "layer":[
   {"mark":{"type":"bar","stroke":"#000","strokeWidth":0.7},
    "encoding":{
     "x":{"field":"id","type":"nominal","sort":null,"scale":{"paddingInner":0.58,"paddingOuter":0.29},"axis":{"orient":"bottom","labelExpr":"split(datum.value,' ')[1]","labelAngle":270,"labelFontSize":7,"ticks":false,"domain":true,"domainColor":"#444","labelPadding":3,"title":null}},
     "y":{"field":"length","type":"quantitative","scale":{"domain":[0,138.67],"nice":false},"axis":{"values":[0,20,40,60,80,100,120],"tickCount":100,"format":"d","grid":true,"gridColor":"#c8c8c8","labelFontSize":7.5,"tickSize":3,"labelPadding":2,"title":null,"domain":true,"domainColor":"#444","domainDash":[135,40]}},
     "color":{"field":"type","type":"nominal","scale":{"domain":["NRI","minor","major"],"range":["#000000","#e00000","#33e633"]},"legend":null}}},
   {"mark":{"type":"text","text":""},
    "encoding":{"x":{"field":"species","type":"nominal","sort":null,"scale":{"paddingInner":0,"paddingOuter":0},"axis":{"orient":"bottom","tickBand":"extent","tickSize":41,"tickColor":"#999","labelPadding":-10,"labelFontSize":8.6,"labelAngle":0,"domain":false,"grid":false,"title":null}}}}
  ],
  "resolve":{"scale":{"x":"independent"},"axis":{"x":"independent"}}}
]
}
